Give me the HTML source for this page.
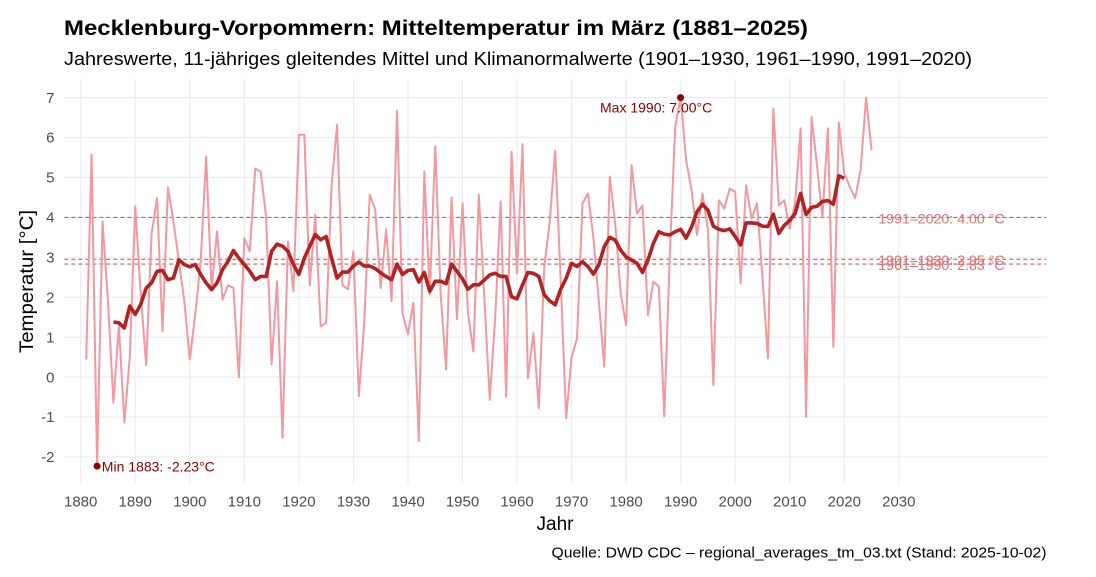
<!DOCTYPE html>
<html>
<head>
<meta charset="utf-8">
<style>
  html, body { margin:0; padding:0; background:#ffffff; }
  svg { display:block; }
  text { font-family: "Liberation Sans", "DejaVu Sans", sans-serif; }
</style>
</head>
<body>
<svg width="1096" height="577" viewBox="0 0 1096 577" xmlns="http://www.w3.org/2000/svg">
  <rect x="0" y="0" width="1096" height="577" fill="#ffffff"/>

  <!-- Title / subtitle -->
  <text x="64" y="35" font-size="21.5" font-weight="bold" fill="#000" textLength="744" lengthAdjust="spacingAndGlyphs">Mecklenburg-Vorpommern: Mitteltemperatur im März (1881–2025)</text>
  <text x="64" y="65" font-size="18.5" fill="#000" textLength="908" lengthAdjust="spacingAndGlyphs">Jahreswerte, 11-jähriges gleitendes Mittel und Klimanormalwerte (1901–1930, 1961–1990, 1991–2020)</text>

  <!-- grid -->
  <g stroke="#ebebeb" stroke-width="1.1">
    <line x1="64.3" x2="1047" y1="97.6" y2="97.6"/>
    <line x1="64.3" x2="1047" y1="137.5" y2="137.5"/>
    <line x1="64.3" x2="1047" y1="177.4" y2="177.4"/>
    <line x1="64.3" x2="1047" y1="217.4" y2="217.4"/>
    <line x1="64.3" x2="1047" y1="257.3" y2="257.3"/>
    <line x1="64.3" x2="1047" y1="297.2" y2="297.2"/>
    <line x1="64.3" x2="1047" y1="337.2" y2="337.2"/>
    <line x1="64.3" x2="1047" y1="377.1" y2="377.1"/>
    <line x1="64.3" x2="1047" y1="417.0" y2="417.0"/>
    <line x1="64.3" x2="1047" y1="456.9" y2="456.9"/>

    <line y1="79" y2="483.5" x1="80.7" x2="80.7"/>
    <line y1="79" y2="483.5" x1="135.2" x2="135.2"/>
    <line y1="79" y2="483.5" x1="189.8" x2="189.8"/>
    <line y1="79" y2="483.5" x1="244.3" x2="244.3"/>
    <line y1="79" y2="483.5" x1="298.9" x2="298.9"/>
    <line y1="79" y2="483.5" x1="353.4" x2="353.4"/>
    <line y1="79" y2="483.5" x1="408.0" x2="408.0"/>
    <line y1="79" y2="483.5" x1="462.5" x2="462.5"/>
    <line y1="79" y2="483.5" x1="517.0" x2="517.0"/>
    <line y1="79" y2="483.5" x1="571.6" x2="571.6"/>
    <line y1="79" y2="483.5" x1="626.1" x2="626.1"/>
    <line y1="79" y2="483.5" x1="680.7" x2="680.7"/>
    <line y1="79" y2="483.5" x1="735.2" x2="735.2"/>
    <line y1="79" y2="483.5" x1="789.7" x2="789.7"/>
    <line y1="79" y2="483.5" x1="844.3" x2="844.3"/>
    <line y1="79" y2="483.5" x1="898.8" x2="898.8"/>
  </g>

  <!-- Y tick labels -->
  <g font-size="15" fill="#4d4d4d" text-anchor="end">
    <text x="54.5" y="102.8">7</text>
    <text x="54.5" y="142.7">6</text>
    <text x="54.5" y="182.6">5</text>
    <text x="54.5" y="222.6">4</text>
    <text x="54.5" y="262.5">3</text>
    <text x="54.5" y="302.4">2</text>
    <text x="54.5" y="342.4">1</text>
    <text x="54.5" y="382.3">0</text>
    <text x="54.5" y="422.2">-1</text>
    <text x="54.5" y="462.1">-2</text>
  </g>

  <!-- X tick labels -->
  <g font-size="15" fill="#4d4d4d" text-anchor="middle">
    <text x="80.7" y="506.7">1880</text>
    <text x="135.2" y="506.7">1890</text>
    <text x="189.8" y="506.7">1900</text>
    <text x="244.3" y="506.7">1910</text>
    <text x="298.9" y="506.7">1920</text>
    <text x="353.4" y="506.7">1930</text>
    <text x="408.0" y="506.7">1940</text>
    <text x="462.5" y="506.7">1950</text>
    <text x="517.0" y="506.7">1960</text>
    <text x="571.6" y="506.7">1970</text>
    <text x="626.1" y="506.7">1980</text>
    <text x="680.7" y="506.7">1990</text>
    <text x="735.2" y="506.7">2000</text>
    <text x="789.7" y="506.7">2010</text>
    <text x="844.3" y="506.7">2020</text>
    <text x="898.8" y="506.7">2030</text>
  </g>

  <!-- Axis titles -->
  <text x="555" y="530" font-size="19" fill="#000" text-anchor="middle">Jahr</text>
  <text transform="translate(33,281.5) rotate(-90)" font-size="19.5" fill="#000" text-anchor="middle" textLength="143" lengthAdjust="spacingAndGlyphs">Temperatur [°C]</text>

  <!-- Caption -->
  <text x="1046.5" y="557.3" font-size="14.5" fill="#000" text-anchor="end" textLength="495" lengthAdjust="spacingAndGlyphs">Quelle: DWD CDC – regional_averages_tm_03.txt (Stand: 2025-10-02)</text>

  <!-- Reference lines -->
  <g stroke="#cd5c5c" stroke-width="1.1" stroke-dasharray="4,3" fill="none">
    <line x1="64.3" x2="1046" y1="217.4" y2="217.4"/>
    <line x1="64.3" x2="1046" y1="259.3" y2="259.3"/>
    <line x1="64.3" x2="1046" y1="264.1" y2="264.1"/>
  </g>

  <!-- Yearly series -->
  <g transform="translate(80.7,377.1) scale(5.454,-39.93)">
    <polyline fill="none" stroke="#f2989e" stroke-width="2" stroke-linejoin="round" vector-effect="non-scaling-stroke"
      points="1,0.44 2,5.57 3,-2.23 4,3.9 5,1.9 6,-0.64 7,1.28 8,-1.14 9,0.5 10,4.28 11,2.1 12,0.3 13,3.6 14,4.48 15,1.15 16,4.75 17,3.9 18,2.9 19,1.9 20,0.44 21,1.57 22,2.9 23,5.52 24,2.2 25,3.65 26,1.94 27,2.3 28,2.23 29,0.0 30,3.48 31,3.15 32,5.22 33,5.15 34,4.0 35,0.32 36,2.4 37,-1.52 38,3.4 39,2.15 40,6.07 41,6.07 42,2.3 43,4.07 44,1.27 45,1.36 46,4.8 47,6.32 48,2.3 49,2.2 50,3.15 51,-0.48 52,1.4 53,4.57 54,4.2 55,2.23 56,3.7 57,1.9 58,6.67 59,1.6 60,1.07 61,1.86 62,-1.6 63,5.15 64,2.07 65,5.78 66,2.07 67,0.19 68,4.5 69,1.45 70,4.36 71,1.6 72,0.64 73,4.56 74,2.0 75,-0.57 76,1.5 77,4.4 78,-0.49 79,5.64 80,2.6 81,5.83 82,-0.03 83,1.1 84,-0.78 85,2.77 86,3.9 87,5.67 88,2.43 89,-1.03 90,0.5 91,0.97 92,4.35 93,4.6 94,3.5 95,1.9 96,0.26 97,5.02 98,3.85 99,2.1 100,1.3 101,5.31 102,4.1 103,4.3 104,1.55 105,2.39 106,2.27 107,-0.99 108,3.0 109,6.27 110,7.0 111,5.43 112,4.68 113,3.56 114,4.6 115,3.7 116,-0.2 117,4.43 118,4.22 119,4.72 120,4.64 121,2.35 122,4.8 123,3.97 124,4.35 125,2.5 126,0.47 127,6.73 128,4.3 129,4.43 130,3.72 131,4.39 132,6.23 133,-0.99 134,6.52 135,5.3 136,4.0 137,6.23 138,0.76 139,6.37 140,5.1 141,4.77 142,4.48 143,5.19 144,7.0 145,5.68"/>
    <!-- 11-year moving average -->
    <polyline fill="none" stroke="#b22222" stroke-width="3.6" stroke-linejoin="round" stroke-linecap="butt" vector-effect="non-scaling-stroke"
      points="6,1.38 7,1.36 8,1.23 9,1.78 10,1.57 11,1.82 12,2.23 13,2.36 14,2.65 15,2.67 16,2.44 17,2.48 18,2.94 19,2.82 20,2.76 21,2.82 22,2.57 23,2.36 24,2.19 25,2.36 26,2.69 27,2.9 28,3.17 29,2.98 30,2.82 31,2.65 32,2.44 33,2.52 34,2.52 35,3.15 36,3.33 37,3.28 38,3.15 39,2.82 40,2.57 41,2.98 42,3.28 43,3.57 44,3.44 45,3.52 46,2.98 47,2.48 48,2.63 49,2.63 50,2.78 51,2.88 52,2.78 53,2.78 54,2.72 55,2.61 56,2.52 57,2.44 58,2.83 59,2.57 60,2.67 61,2.69 62,2.38 63,2.62 64,2.15 65,2.4 66,2.4 67,2.34 68,2.83 69,2.65 70,2.46 71,2.2 72,2.31 73,2.31 74,2.43 75,2.56 76,2.6 77,2.52 78,2.52 79,2.01 80,1.96 81,2.31 82,2.62 83,2.6 84,2.52 85,2.06 86,1.91 87,1.81 88,2.2 89,2.47 90,2.85 91,2.77 92,2.89 93,2.77 94,2.58 95,2.81 96,3.27 97,3.5 98,3.43 99,3.18 100,3.01 101,2.93 102,2.85 103,2.62 104,2.93 105,3.35 106,3.64 107,3.58 108,3.56 109,3.64 110,3.7 111,3.48 112,3.76 113,4.14 114,4.33 115,4.18 116,3.78 117,3.7 118,3.67 119,3.71 120,3.52 121,3.31 122,3.86 123,3.86 124,3.85 125,3.78 126,3.77 127,4.08 128,3.6 129,3.8 130,3.92 131,4.1 132,4.6 133,4.07 134,4.25 135,4.28 136,4.4 137,4.42 138,4.33 139,5.04 140,4.98"/>
  </g>

  <!-- Reference labels -->
  <g font-size="14.2" fill="#dc7272">
    <text x="878.3" y="223.3">1991–2020: 4.00 °C</text>
    <text x="878.3" y="265.2">1901–1930: 2.95 °C</text>
    <text x="878.3" y="270.0">1961–1990: 2.83 °C</text>
  </g>

  <!-- Min / Max points -->
  <circle cx="97.1" cy="466.1" r="3.5" fill="#8b0000"/>
  <circle cx="680.6" cy="97.6" r="3.5" fill="#8b0000"/>
  <text x="101.8" y="471.7" font-size="14" fill="#8b0000">Min 1883: -2.23°C</text>
  <text x="600" y="112.3" font-size="14" fill="#8b0000">Max 1990: 7.00°C</text>
</svg>
</body>
</html>
